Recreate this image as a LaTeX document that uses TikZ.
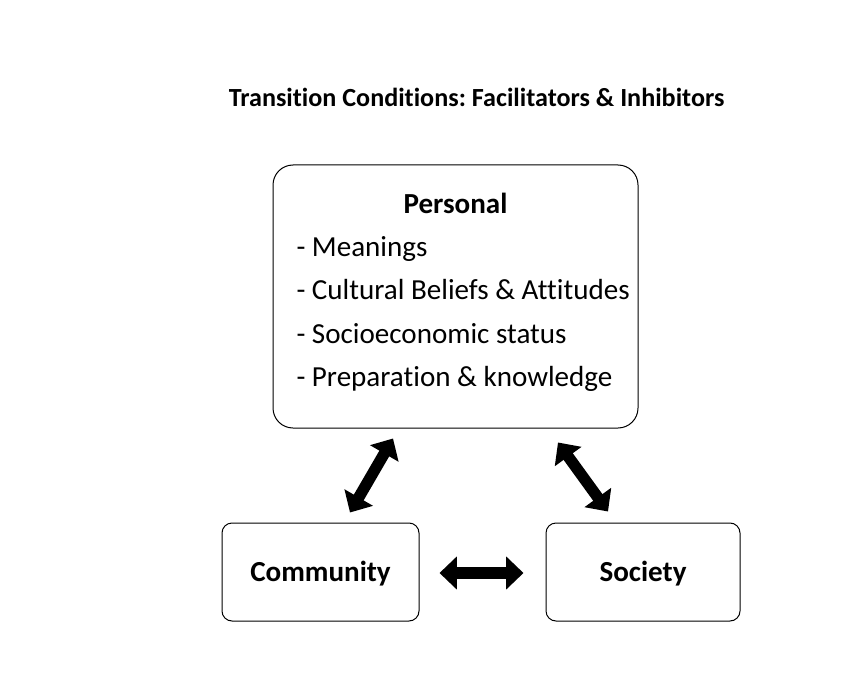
\documentclass[tikz,border=0pt]{standalone}
\usepackage{fontspec}
\setmainfont{Carlito}[Ligatures={NoCommon}]
\frenchspacing
\usetikzlibrary{arrows.meta,calc}

\tikzset{every picture/.style={line width=0.75pt}}
\tikzset{
  box/.style={draw, inner sep=0pt},
  label text/.style={inner sep=0.75pt, font=\fontsize{21.8}{26}\selectfont},
  dblarrow/.style={line width=8.5pt, {Triangle[width=24pt,length=13pt]}-{Triangle[width=24pt,length=13pt]}},
}

\begin{document}
\begin{tikzpicture}[x=0.75pt,y=0.75pt,yscale=-1,xscale=1]
	\useasboundingbox (0,0) rectangle (845,684);

	% Text Node
	\draw (476.5,107) node [anchor=base][inner sep=0.75pt]  [font=\fontsize{19.6}{23}\selectfont\bfseries]  (title) {Transition Conditions: Facilitators \& Inhibitors};

	%Shape: Rounded Rect
	\draw (455.5,296.5) node [box, rounded corners=15pt, minimum width=273.75pt, minimum height=197.25pt] (personal) {};
	%Shape: Rounded Rect
	\draw (320.5,572) node [box, rounded corners=7.5pt, minimum width=147.75pt, minimum height=73.5pt] (community) {};
	%Shape: Rounded Rect
	\draw (643,572) node [box, rounded corners=7.5pt, minimum width=145.5pt, minimum height=73.5pt] (society) {};

	% Text Node
	\draw (455.5,214) node [anchor=base][label text]  [font=\fontsize{21.8}{26}\selectfont\bfseries]  (personalhead) {Personal};
	% Text Node
	\draw (295,256) node [anchor=base west][label text]  (meanings) {- Meanings};
	% Text Node
	\draw (295,299) node [anchor=base west][label text]  (beliefs) {- Cultural Beliefs \& Attitudes};
	% Text Node
	\draw (295,343) node [anchor=base west][label text]  (status) {- Socioeconomic status};
	% Text Node
	\draw (295,386) node [anchor=base west][label text]  (knowledge) {- Preparation \& knowledge};
	% Text Node
	\draw (320.5,581) node [anchor=base][label text]  [font=\fontsize{21.8}{26}\selectfont\bfseries]  (communitytext) {Community};
	% Text Node
	\draw (643,581) node [anchor=base][label text]  [font=\fontsize{21.8}{26}\selectfont\bfseries]  (societytext) {Society};

	%Shape: Double Arrow
	\draw [dblarrow] ($(community.north)+(29.5,-10)$) -- ($(personal.south)+(-62.5,10)$) ;
	%Shape: Double Arrow
	\draw [dblarrow] ($(personal.south)+(102.5,14)$) -- ($(society.north)+(-35,-11)$) ;
	%Shape: Double Arrow
	\draw [dblarrow] ($(community.east)+(20,1)$) -- ($(society.west)+(-22,1)$) ;

\end{tikzpicture}
\end{document}
